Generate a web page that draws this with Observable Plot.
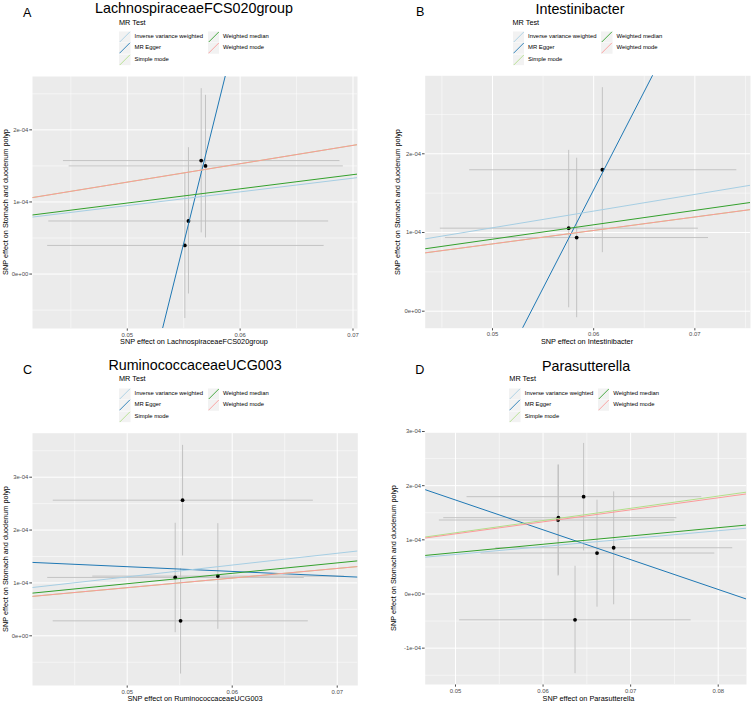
<!DOCTYPE html>
<html><head><meta charset="utf-8">
<script src="https://cdn.jsdelivr.net/npm/d3@7"></script>
<script src="https://cdn.jsdelivr.net/npm/@observablehq/plot@0.6"></script>
<style>
html,body{margin:0;padding:0;background:#fff;}
#root{position:relative;width:752px;height:704px;overflow:hidden;font-family:"Liberation Sans",Arial,Helvetica,sans-serif;}
.cell{position:absolute;width:376px;height:352px;}
.t{position:absolute;white-space:nowrap;line-height:1;transform:translate(-50%,-50%);}
.tl{position:absolute;white-space:nowrap;line-height:1;transform:translate(0,-50%);}
.ty{position:absolute;white-space:nowrap;line-height:1;transform:translate(-50%,-50%) rotate(-90deg);}
.key{position:absolute;width:11.5px;height:11.5px;transform:translate(0,-50%);}
</style></head>
<body><div id="root"></div>
<script>
// ---- shared categories ----
const panelLetters = ["A", "B", "C", "D"];
const exposures = ["LachnospiraceaeFCS020group", "Intestinibacter", "RuminococcaceaeUCG003", "Parasutterella"];
const outcome = "Stomach and duodenum polyp";
const legendTitle = "MR Test";
// drawing order of the regression lines
const methods = ["MR Egger", "Weighted median", "Inverse variance weighted", "Simple mode", "Weighted mode"];
const methodColors = ["#1f78b4", "#33a02c", "#a6cee3", "#b2df8a", "#fb9a99"];
const legendCol1 = ["Inverse variance weighted", "MR Egger", "Simple mode"];
const legendCol2 = ["Weighted median", "Weighted mode"];

// ---- Panel A: LachnospiraceaeFCS020group ----
const aBetaX = [0.05655, 0.05693, 0.05542, 0.05510];
const aBetaY = [1.574e-4, 1.500e-4, 0.736e-4, 0.397e-4];
const aXLo = [0.0443, 0.0448, 0.0430, 0.0429];
const aXHi = [0.0688, 0.0691, 0.0678, 0.0674];
const aYLo = [0.578e-4, 0.508e-4, -0.270e-4, -0.610e-4];
const aYHi = [2.578e-4, 2.486e-4, 1.760e-4, 1.410e-4];
const aIntercept = [-0.0034222, 0, 0, 0, 0];
const aSlope = [0.0630, 0.00197, 0.00190, 0.00255, 0.00255];
const aXTicks = [0.05, 0.06, 0.07];
const aXTickLabels = ["0.05", "0.06", "0.07"];
const aXMinor = [0.045, 0.055, 0.065];
const aYTicks = [0, 1e-4, 2e-4];
const aYTickLabels = ["0e+00", "1e-04", "2e-04"];
const aYMinor = [-0.5e-4, 0.5e-4, 1.5e-4, 2.5e-4];

// ---- Panel B: Intestinibacter ----
const bBetaX = [0.06086, 0.05753, 0.05832];
const bBetaY = [1.797e-4, 1.055e-4, 0.936e-4];
const bXLo = [0.0477, 0.0448, 0.0453];
const bXHi = [0.0741, 0.0703, 0.0713];
const bYLo = [0.750e-4, 0.050e-4, -0.076e-4];
const bYHi = [2.846e-4, 2.050e-4, 1.950e-4];
const bIntercept = [-0.0013445, 0, 0, 0, 0];
const bSlope = [0.02498, 0.00183, 0.00212, 0.00171, 0.00171];
const bXTicks = [0.05, 0.06, 0.07];
const bXTickLabels = ["0.05", "0.06", "0.07"];
const bXMinor = [0.045, 0.055, 0.065, 0.075];
const bYTicks = [0, 1e-4, 2e-4];
const bYTickLabels = ["0e+00", "1e-04", "2e-04"];
const bYMinor = [0.5e-4, 1.5e-4, 2.5e-4];

// ---- Panel C: RuminococcaceaeUCG003 ----
const cBetaX = [0.05527, 0.05457, 0.05863, 0.05508];
const cBetaY = [2.565e-4, 1.104e-4, 1.129e-4, 0.283e-4];
const cXLo = [0.04291, 0.04238, 0.04667, 0.04290];
const cXHi = [0.06768, 0.06682, 0.07063, 0.06720];
const cYLo = [1.520e-4, 0.068e-4, 0.132e-4, -0.714e-4];
const cYHi = [3.612e-4, 2.138e-4, 2.130e-4, 1.280e-4];
const cIntercept = [1.7556e-4, 0, 0, 0, 0];
const cSlope = [-0.000897, 0.00197, 0.00223, 0.00182, 0.00182];
const cXTicks = [0.05, 0.06, 0.07];
const cXTickLabels = ["0.05", "0.06", "0.07"];
const cXMinor = [0.045, 0.055, 0.065];
const cYTicks = [0, 1e-4, 2e-4, 3e-4];
const cYTickLabels = ["0e+00", "1e-04", "2e-04", "3e-04"];
const cYMinor = [-0.5e-4, 0.5e-4, 1.5e-4, 2.5e-4, 3.5e-4];

// ---- Panel D: Parasutterella ----
const dBetaX = [0.06463, 0.06175, 0.06171, 0.06806, 0.06616, 0.06365];
const dBetaY = [1.797e-4, 1.409e-4, 1.366e-4, 0.854e-4, 0.756e-4, -0.477e-4];
const dXLo = [0.05126, 0.04860, 0.04810, 0.05455, 0.05285, 0.05042];
const dXHi = [0.07807, 0.07522, 0.07502, 0.08160, 0.07955, 0.07685];
const dYLo = [0.804e-4, 0.355e-4, 0.340e-4, -0.190e-4, -0.234e-4, -1.462e-4];
const dYHi = [2.789e-4, 2.388e-4, 2.390e-4, 1.895e-4, 1.741e-4, 0.521e-4];
const dIntercept = [4.4885e-4, 0, 0, 0, 0];
const dSlope = [-0.005506, 0.00153, 0.00146, 0.00226, 0.00222];
const dXTicks = [0.05, 0.06, 0.07, 0.08];
const dXTickLabels = ["0.05", "0.06", "0.07", "0.08"];
const dXMinor = [0.055, 0.065, 0.075];
const dYTicks = [-1e-4, 0, 1e-4, 2e-4, 3e-4];
const dYTickLabels = ["-1e-04", "0e+00", "1e-04", "2e-04", "3e-04"];
const dYMinor = [-1.5e-4, -0.5e-4, 0.5e-4, 1.5e-4, 2.5e-4];

// ---- layout (positions / styles) ----
const FONT = '"Liberation Sans",Arial,Helvetica,sans-serif';
const layout = [
  {cx: 0, cy: 0, mL: 32, mR: 19, mT: 76, mB: 24, xdom: [0.0416, 0.0704], ydom: [-0.755e-4, 2.74e-4],
   letter: [27.2, 12.8], title: [194, 7.8], leg: [119, 22.5], ytitle: [5.5, 202], xtitle: [194, 342]},
  {cx: 376, cy: 0, mL: 48.7, mR: 2, mT: 75.3, mB: 24.3, xdom: [0.04335, 0.0755], ydom: [-0.216e-4, 2.991e-4],
   letter: [420.2, 12.3], title: [580, 8.7], leg: [512.5, 22.5], ytitle: [397.7, 201.5], xtitle: [587, 341.7]},
  {cx: 0, cy: 352, mL: 32, mR: 18.7, mT: 80.7, mB: 19, xdom: [0.04098, 0.07196], ydom: [-0.94e-4, 3.832e-4],
   letter: [27.5, 370], title: [195, 364.5], leg: [119, 379.3], ytitle: [5.5, 559], xtitle: [195, 699.2]},
  {cx: 376, cy: 352, mL: 48.7, mR: 6, mT: 80.3, mB: 20, xdom: [0.04654, 0.08323], ydom: [-1.671e-4, 2.976e-4],
   letter: [419.8, 370], title: [586, 365.5], leg: [509.3, 379.3], ytitle: [394.3, 558], xtitle: [588.5, 698.7]}
];

const panelData = [
  {bx: aBetaX, by: aBetaY, xlo: aXLo, xhi: aXHi, ylo: aYLo, yhi: aYHi, a: aIntercept, b: aSlope,
   xt: aXTicks, xtl: aXTickLabels, xm: aXMinor, yt: aYTicks, ytl: aYTickLabels, ym: aYMinor},
  {bx: bBetaX, by: bBetaY, xlo: bXLo, xhi: bXHi, ylo: bYLo, yhi: bYHi, a: bIntercept, b: bSlope,
   xt: bXTicks, xtl: bXTickLabels, xm: bXMinor, yt: bYTicks, ytl: bYTickLabels, ym: bYMinor},
  {bx: cBetaX, by: cBetaY, xlo: cXLo, xhi: cXHi, ylo: cYLo, yhi: cYHi, a: cIntercept, b: cSlope,
   xt: cXTicks, xtl: cXTickLabels, xm: cXMinor, yt: cYTicks, ytl: cYTickLabels, ym: cYMinor},
  {bx: dBetaX, by: dBetaY, xlo: dXLo, xhi: dXHi, ylo: dYLo, yhi: dYHi, a: dIntercept, b: dSlope,
   xt: dXTicks, xtl: dXTickLabels, xm: dXMinor, yt: dYTicks, ytl: dYTickLabels, ym: dYMinor}
];

const root = document.getElementById("root");
function lab(ticks, labels) {
  return d => { const i = ticks.findIndex(t => Math.abs(t - d) < 1e-12); return i >= 0 ? labels[i] : ""; };
}
function addDiv(cls, text, x, y, css) {
  const el = document.createElement("div");
  el.className = cls; el.textContent = text;
  el.style.left = x + "px"; el.style.top = y + "px";
  Object.assign(el.style, css || {});
  root.appendChild(el);
  return el;
}
function addKey(x, y, color) {
  const ns = "http://www.w3.org/2000/svg";
  const s = document.createElementNS(ns, "svg");
  s.setAttribute("class", "key"); s.setAttribute("width", "11.5"); s.setAttribute("height", "11.5");
  s.style.left = x + "px"; s.style.top = y + "px";
  const r = document.createElementNS(ns, "rect");
  r.setAttribute("width", "11.5"); r.setAttribute("height", "11.5"); r.setAttribute("fill", "#f2f2f2");
  const l = document.createElementNS(ns, "line");
  l.setAttribute("x1", "0.5"); l.setAttribute("y1", "11"); l.setAttribute("x2", "11"); l.setAttribute("y2", "0.5");
  l.setAttribute("stroke", color); l.setAttribute("stroke-width", "0.9");
  s.appendChild(r); s.appendChild(l);
  root.appendChild(s);
}

panelData.forEach((p, k) => {
  const L = layout[k];
  const pts = p.bx.map((x, i) => ({x, y: p.by[i], xlo: p.xlo[i], xhi: p.xhi[i], ylo: p.ylo[i], yhi: p.yhi[i]}));
  const lines = methods.map((m, i) => ({
    method: m,
    x1: L.xdom[0], y1: p.a[i] + p.b[i] * L.xdom[0],
    x2: L.xdom[1], y2: p.a[i] + p.b[i] * L.xdom[1]
  }));
  const chart = Plot.plot({
    width: 376, height: 352,
    marginLeft: L.mL, marginRight: L.mR, marginTop: L.mT, marginBottom: L.mB,
    style: {fontFamily: FONT, fontSize: "5.9px", color: "#4d4d4d", background: "transparent", overflow: "visible"},
    x: {domain: L.xdom, ticks: p.xt, tickFormat: lab(p.xt, p.xtl), tickSize: 2.7, tickPadding: 1.2, label: null},
    y: {domain: L.ydom, ticks: p.yt, tickFormat: lab(p.yt, p.ytl), tickSize: 2.7, tickPadding: 1.5, label: null},
    color: {domain: methods, range: methodColors},
    marks: [
      Plot.frame({fill: "#ebebeb", stroke: null}),
      Plot.ruleX(p.xm, {stroke: "#ffffff", strokeWidth: 0.5}),
      Plot.ruleY(p.ym, {stroke: "#ffffff", strokeWidth: 0.5}),
      Plot.ruleX(p.xt.filter(v => v >= L.xdom[0] && v <= L.xdom[1]), {stroke: "#ffffff", strokeWidth: 1}),
      Plot.ruleY(p.yt.filter(v => v >= L.ydom[0] && v <= L.ydom[1]), {stroke: "#ffffff", strokeWidth: 1}),
      Plot.link(pts, {x1: "xlo", x2: "xhi", y1: "y", y2: "y", stroke: "#bebebe", strokeWidth: 0.9}),
      Plot.link(pts, {x1: "x", x2: "x", y1: "ylo", y2: "yhi", stroke: "#bebebe", strokeWidth: 0.9}),
      Plot.dot(pts, {x: "x", y: "y", r: 1.9, fill: "#000000", stroke: null}),
      Plot.link(lines, {x1: "x1", y1: "y1", x2: "x2", y2: "y2", stroke: "method", strokeWidth: 1, clip: true})
    ]
  });
  const cell = document.createElement("div");
  cell.className = "cell";
  cell.style.left = L.cx + "px"; cell.style.top = L.cy + "px";
  cell.appendChild(chart);
  root.appendChild(cell);

  // panel letter and title
  addDiv("t", panelLetters[k], L.letter[0], L.letter[1], {fontSize: "12.6px", color: "#000"});
  addDiv("t", exposures[k], L.title[0], L.title[1], {fontSize: "14.3px", color: "#000"});
  // axis titles
  addDiv("t", "SNP effect on " + exposures[k], L.xtitle[0], L.xtitle[1], {fontSize: "7.3px", color: "#000"});
  addDiv("ty", "SNP effect on " + outcome, L.ytitle[0], L.ytitle[1], {fontSize: "7.3px", color: "#000"});
  // legend
  const lx = L.leg[0], ly = L.leg[1];
  addDiv("tl", legendTitle, lx, ly, {fontSize: "7.3px", color: "#000"});
  const rows = [ly + 14.2, ly + 25.7, ly + 37.2];
  legendCol1.forEach((m, i) => {
    addKey(lx, rows[i], methodColors[methods.indexOf(m)]);
    addDiv("tl", m, lx + 15.5, rows[i], {fontSize: "5.9px", color: "#000"});
  });
  legendCol2.forEach((m, i) => {
    addKey(lx + 88.5, rows[i], methodColors[methods.indexOf(m)]);
    addDiv("tl", m, lx + 104, rows[i], {fontSize: "5.9px", color: "#000"});
  });
});
</script>
</body></html>
